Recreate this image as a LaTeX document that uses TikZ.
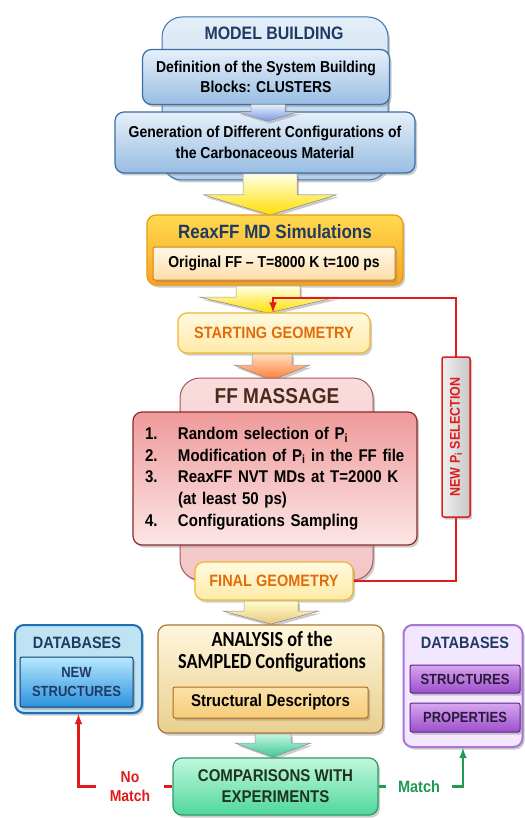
\documentclass[tikz,border=0pt]{standalone}
\usepackage{fontspec}
\setmainfont{Liberation Sans}[FakeStretch=0.885]
\newfontfamily\calfont{Carlito}[FakeStretch=0.85]
\usetikzlibrary{positioning,shadows,arrows}

\definecolor{mbtop}{HTML}{E3EEF8}\definecolor{mbbot}{HTML}{B5D0EA}\definecolor{mbline}{HTML}{3F75AE}
\definecolor{deftop}{HTML}{E6F0FA}\definecolor{defbot}{HTML}{98BDE2}\definecolor{defline}{HTML}{3A6EA5}
\definecolor{navy}{HTML}{1F3B63}
\definecolor{rxtop}{HTML}{FFD94F}\definecolor{rxbot}{HTML}{F5A623}\definecolor{rxline}{HTML}{EE9A10}
\definecolor{ortop}{HTML}{FFF8E6}\definecolor{orbot}{HTML}{FDDDAA}\definecolor{orline}{HTML}{E07B20}
\definecolor{geotop}{HTML}{FFF9E0}\definecolor{geobot}{HTML}{FFEAA6}\definecolor{geoline}{HTML}{F0B630}
\definecolor{geotext}{HTML}{E36C0A}
\definecolor{fftop}{HTML}{F9DCDC}\definecolor{ffbot}{HTML}{F4C6C6}\definecolor{ffline}{HTML}{A45858}
\definecolor{sttop}{HTML}{EF9A9A}\definecolor{stbot}{HTML}{FCE6E6}\definecolor{stline}{HTML}{8E2A2A}
\definecolor{fftext}{HTML}{4B2A1B}
\definecolor{antop}{HTML}{FFF6DC}\definecolor{anbot}{HTML}{E9CF8F}\definecolor{anline}{HTML}{A87838}
\definecolor{sdtop}{HTML}{FBE2A8}\definecolor{sdbot}{HTML}{F6CC78}\definecolor{sdline}{HTML}{B36B16}
\definecolor{cmtop}{HTML}{C2F7DE}\definecolor{cmbot}{HTML}{4ED89C}\definecolor{cmline}{HTML}{2F9A66}
\definecolor{cmtext}{HTML}{1E3322}
\definecolor{ldbfill}{HTML}{BFE3F2}\definecolor{ldbline}{HTML}{1F6FB5}
\definecolor{lnwtop}{HTML}{B7E8FF}\definecolor{lnwbot}{HTML}{2B93DD}\definecolor{lnwline}{HTML}{0F3D6E}
\definecolor{rdbfill}{HTML}{F3E6FF}\definecolor{rdbline}{HTML}{A876DB}
\definecolor{rsttop}{HTML}{D9A6F0}\definecolor{rstbot}{HTML}{9B4FCB}\definecolor{rstline}{HTML}{5E2585}
\definecolor{rsttext}{HTML}{2A1A3A}
\definecolor{loopred}{HTML}{E01B1B}\definecolor{matchgreen}{HTML}{1F9A50}

\newcommand{\fsize}[2]{\fontsize{#1}{#2}\selectfont}
% block arrow: centre x, top, start of head, tip, shaft half width, head half width, style
\newcommand{\flowarrow}[7]{%
	\filldraw[#7] ({#1-#5},#2) -- ({#1+#5},#2) -- ({#1+#5},#3) -- ({#1+#6},#3) -- (#1,#4) -- ({#1-#6},#3) -- ({#1-#5},#3) -- cycle;}

\tikzset{softshadow/.style={drop shadow={opacity=.4,shadow xshift=2pt,shadow yshift=-2.5pt}}}
\tikzset{panel/.style={rounded corners=20pt, draw, line width=1pt, inner sep=0pt, softshadow}}
\tikzset{card/.style={rounded corners=9pt, draw, line width=1.2pt, inner sep=0pt, align=center, softshadow}}
\tikzset{tag/.style={rounded corners=2pt, draw, line width=1pt, inner sep=0pt, align=center, softshadow}}
\tikzset{blockarrow/.style={draw=black!40, line width=.5pt, softshadow}}
\tikzset{redline/.style={draw=loopred, line width=2.4pt}}
\tikzset{greenline/.style={draw=matchgreen, line width=2.4pt}}

\begin{document}
\begin{tikzpicture}[x=1pt,y=-1pt]
	\useasboundingbox (0,0) rectangle (524,818);
	%% model building
	\node[panel, top color=mbtop, bottom color=mbbot, draw=mbline, minimum width=226pt, minimum height=163pt] (mbpanel) at (275,98.5) {};
	\node[font=\bfseries\fsize{18}{21}, text=navy] (mbtitle) at (274,33) {MODEL BUILDING};
	\node[card, top color=deftop, bottom color=defbot, draw=defline, minimum width=247pt, minimum height=55pt, font=\bfseries\fsize{15.8}{20}] (def) at (266,77) {Definition of the System Building\\Blocks: CLUSTERS};
	\node[card, top color=deftop, bottom color=defbot, draw=defline, minimum width=300pt, minimum height=61pt, font=\bfseries\fsize{15.8}{21}] (gen) at (265,142.5) {Generation of Different Configurations of\\the Carbonaceous Material};
	\flowarrow{268}{104.5}{112}{121}{17}{30}{blockarrow, top color=deftop, bottom color=defbot!80!blue}
	\flowarrow{270}{174}{195}{215}{27}{66}{blockarrow, top color=yellow!10, bottom color=yellow!75!orange}

	%% reaxff simulations
	\node[card, top color=rxtop, bottom color=rxbot, draw=rxline, minimum width=256pt, minimum height=70pt] (reax) at (275,250) {};
	\node[font=\bfseries\fsize{19.2}{22}, text=navy] (reaxtitle) at (275,232) {ReaxFF MD Simulations};
	\node[tag, top color=ortop, bottom color=orbot, draw=orline, minimum width=242pt, minimum height=33pt, font=\bfseries\fsize{15.8}{18}] (orig) at (274,263.5) {Original FF \textendash{} T=8000 K t=100 ps};
	\flowarrow{268}{286}{297}{313}{32}{69}{blockarrow, top color=yellow!10, bottom color=yellow!75!orange}
	\node[card, top color=geotop, bottom color=geobot, draw=geoline, minimum width=192pt, minimum height=40pt, font=\bfseries\fsize{16.4}{19}, text=geotext] (start) at (274,333) {STARTING GEOMETRY};
	\flowarrow{272}{354}{365}{380}{20}{38}{blockarrow, top color=orange!25, bottom color=orange!70!red!80}

	%% ff massage
	\node[panel, top color=fftop, bottom color=ffbot, draw=ffline, minimum width=193pt, minimum height=202pt] (ffpanel) at (276.5,479) {};
	\node[font=\bfseries\fsize{21.5}{24}, text=fftext] (fftitle) at (277,396) {FF MASSAGE};
	\node[card, top color=sttop, bottom color=stbot, draw=stline, minimum width=284pt, minimum height=133pt, inner xsep=12pt, text width=260pt, align=left, font=\bfseries\fsize{17}{21.7}] (steps) at (275,478.5)
		{\makebox[33pt][l]{1.}Random selection of P\textsubscript{i}\\
		 \makebox[33pt][l]{2.}Modification of P\textsubscript{i} in the FF file\\
		 \makebox[33pt][l]{3.}ReaxFF NVT MDs at T=2000 K\\
		 \makebox[33pt][l]{}(at least 50 ps)\\
		 \makebox[33pt][l]{4.}Configurations Sampling};
	\node[card, top color=geotop, bottom color=geobot, draw=geoline, minimum width=158pt, minimum height=38pt, font=\bfseries\fsize{16.4}{19}, text=geotext] (final) at (274,581) {FINAL GEOMETRY};

	%% new parameter loop
	\coordinate (loopbr) at (456,581);
	\coordinate (looptr) at (456,298);
	\coordinate (looptl) at (273,298);
	\draw[redline,-latex] (final.east) -- (loopbr) -- (looptr) -- (looptl) -- (looptl |- start.north);
	\node[tag, rotate=90, left color=black!6, right color=black!22, draw=loopred, line width=1.5pt, minimum width=160pt, minimum height=28pt, font=\bfseries\fsize{14.1}{16}, text=loopred] (newsel) at (456,437) {NEW P\textsubscript{i} SELECTION};

	%% analysis
	\flowarrow{271}{601}{611}{624}{27}{48}{blockarrow, top color=yellow!20, bottom color=anbot!90!orange}
	\node[card, top color=antop, bottom color=anbot, draw=anline, minimum width=225pt, minimum height=108pt] (ana) at (270.5,679) {};
	\node[font=\calfont\bfseries\fsize{21.5}{22}, align=center] (anatitle) at (272,652) {ANALYSIS of the\\SAMPLED Configurations};
	\node[tag, top color=sdtop, bottom color=sdbot, draw=sdline, minimum width=195pt, minimum height=31pt, font=\bfseries\fsize{17}{19}] (descr) at (270.5,702.5) {Structural Descriptors};
	\flowarrow{273}{734}{743}{757}{18}{38}{blockarrow, top color=cmtop, bottom color=cmbot!80!teal}
	\node[card, top color=cmtop, bottom color=cmbot, draw=cmline, minimum width=205pt, minimum height=57pt, font=\bfseries\fsize{17}{21}, text=cmtext] (comp) at (275.5,786.5) {COMPARISONS WITH\\EXPERIMENTS};

	%% databases
	\node[card, fill=ldbfill, draw=ldbline, line width=2pt, minimum width=127pt, minimum height=88pt] (ldb) at (78.5,669) {};
	\node[font=\bfseries\fsize{16.4}{19}, text=navy] (ldbtitle) at (77,643) {DATABASES};
	\node[tag, top color=lnwtop, bottom color=lnwbot, draw=lnwline, minimum width=113pt, minimum height=50pt, font=\bfseries\fsize{14.7}{19}, text=navy] (newstruct) at (76.5,682) {NEW\\STRUCTURES};
	\node[card, fill=rdbfill, draw=rdbline, line width=2pt, minimum width=119pt, minimum height=122pt] (rdb) at (463,686) {};
	\node[font=\bfseries\fsize{16.4}{19}, text=navy] (rdbtitle) at (465,643) {DATABASES};
	\node[tag, top color=rsttop, bottom color=rstbot, draw=rstline, minimum width=110pt, minimum height=28pt, font=\bfseries\fsize{14.7}{17}, text=rsttext] (structs) at (465,679) {STRUCTURES};
	\node[tag, top color=rsttop, bottom color=rstbot, draw=rstline, minimum width=110pt, minimum height=29pt, font=\bfseries\fsize{14.7}{17}, text=rsttext] (props) at (465,717.5) {PROPERTIES};

	%% match / no match
	\draw[redline,-latex] (comp.west) -| (ldb.south);
	\node[fill=white, inner xsep=14pt, inner ysep=1pt, align=center, font=\bfseries\fsize{15.8}{19}, text=loopred] (nomatch) at (130,787) {No\\Match};
	\draw[greenline,-latex] (comp.east) -| (rdb.south);
	\node[fill=white, inner xsep=12pt, inner ysep=1pt, font=\bfseries\fsize{16.4}{19}, text=matchgreen] (match) at (419,787) {Match};
\end{tikzpicture}
\end{document}
